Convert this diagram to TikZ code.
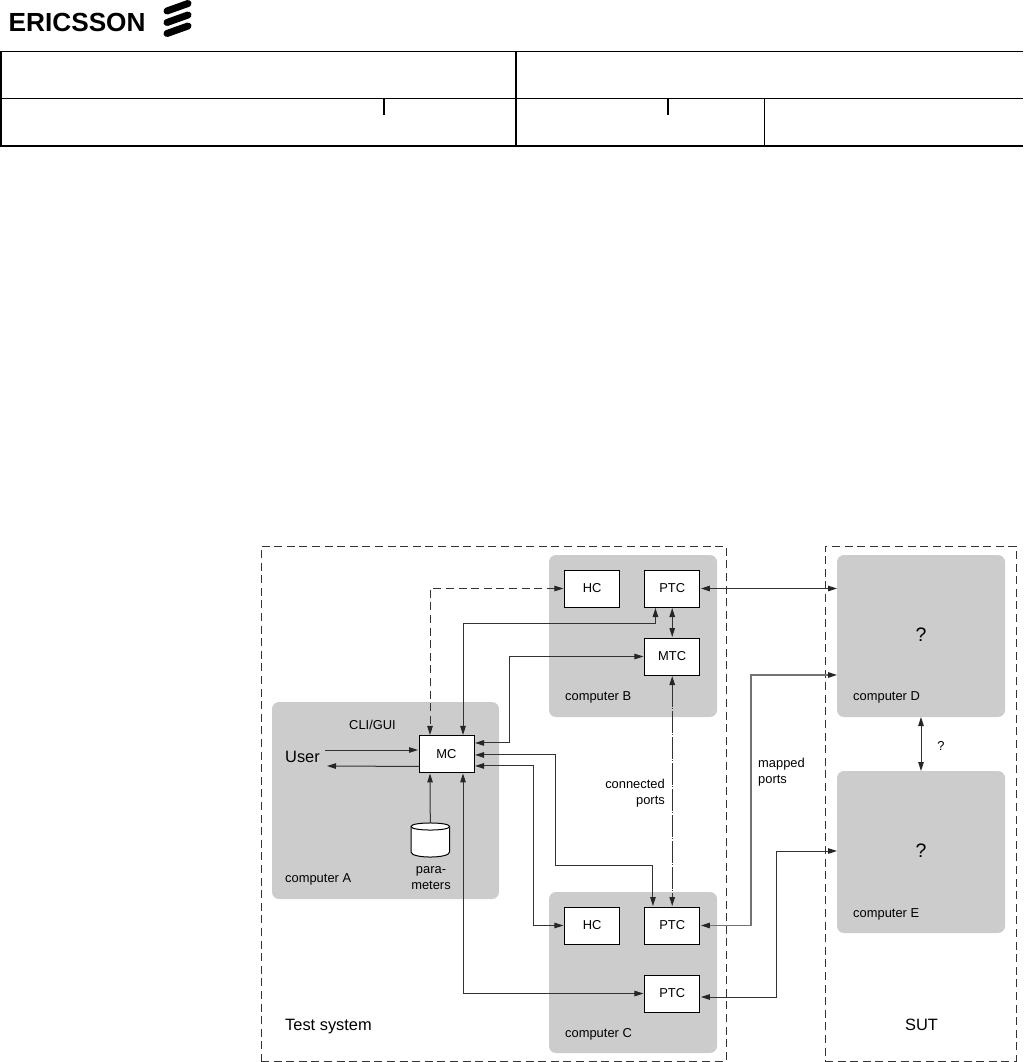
\documentclass[tikz,border=0pt]{standalone}
\usepackage{fontspec}
\setmainfont{Liberation Sans}
\usetikzlibrary{arrows.meta,calc}
\definecolor{compgray}{gray}{0.8}
\definecolor{linegray}{gray}{0.2}
\newcommand{\smalltxt}{\fontsize{12.9}{15.6}\selectfont}
\newcommand{\bigtxt}{\fontsize{16.4}{19}\selectfont}
\newcommand{\hugetxt}{\fontsize{19.5}{22}\selectfont}
\tikzset{
  x=1pt,y=-1pt,
  rule/.style={draw=black,line width=1pt},
  thickrule/.style={draw=black,line width=2pt},
  tickrule/.style={draw=black,line width=1.5pt},
  logobar/.style={draw=black,line width=7pt,line cap=round},
  computer/.style={fill=compgray,rounded corners=7pt,draw=none,inner sep=0pt,outer sep=0pt,anchor=north west},
  region/.style={draw=linegray,line width=1pt,dash pattern=on 8pt off 4.6pt,anchor=north west,inner sep=0pt,outer sep=0pt},
  comp/.style={draw=black,fill=white,line width=1pt,minimum width=55.5pt,minimum height=37pt,inner sep=0pt,outer sep=0pt,font=\smalltxt},
  mcbox/.style={comp,minimum width=55pt,minimum height=36.5pt},
  label/.style={inner sep=0pt,font=\smalltxt,anchor=base west},
  biglabel/.style={inner sep=0pt,font=\bigtxt,anchor=base west},
  conn/.style={draw=linegray,line width=1pt,{Triangle[length=9pt,width=5.5pt,color=black!85]}-{Triangle[length=9pt,width=5.5pt,color=black!85]},shorten <=1pt,shorten >=1pt},
  connone/.style={draw=linegray,line width=1pt,-{Triangle[length=9pt,width=5.5pt,color=black!85]},shorten >=1pt},
  flushconn/.style={conn,shorten <=0pt,shorten >=0pt},
  mapped/.style={flushconn,draw=black!55,line width=1.2pt},
  dashedconn/.style={conn,dash pattern=on 8pt off 4.6pt},
  dotconn/.style={conn,dash pattern=on 22pt off 1.5pt on 1pt off 1.5pt},
  dbshape/.style={draw=black,fill=white,line width=1pt},
}
\begin{document}
\begin{tikzpicture}
\useasboundingbox (0,0) rectangle (1023,1062);
% header
\node[inner sep=0pt,anchor=base west,font=\fontsize{26.2}{28}\selectfont\bfseries] (logotxt) at (8.5,31.7) {ERICSSON};
\coordinate (barA) at (167,11);
\coordinate (barB) at (167,22.5);
\coordinate (barC) at (167,33.5);
\draw[logobar] (barA) -- ++(21,-7.5);
\draw[logobar] (barB) -- ++(21,-7.5);
\draw[logobar] (barC) -- ++(21,-7.5);
\draw[rule] (1,51.5) -- (1023,51.5);
\draw[rule] (1,98.5) -- (1023,98.5);
\draw[thickrule] (0,146) -- (1023,146);
\draw[thickrule] (1,51) -- (1,146);
\draw[thickrule] (516,51) -- (516,146);
\draw[rule] (764.5,98.5) -- (764.5,146);
\draw[tickrule] (384,98.5) -- (384,115);
\draw[tickrule] (668,98.5) -- (668,115);
% regions
\node[region,minimum width=465pt,minimum height=515pt] (testsys) at (261,546) {};
\node[region,minimum width=191pt,minimum height=515pt] (sut) at (825,546) {};
% computers
\node[computer,minimum width=168pt,minimum height=162pt] (compB) at (549,555) {};
\node[computer,minimum width=227pt,minimum height=197pt] (compA) at (272,702) {};
\node[computer,minimum width=168pt,minimum height=161pt] (compC) at (549,892) {};
\node[computer,minimum width=168pt,minimum height=162pt] (compD) at (837,555) {};
\node[computer,minimum width=168pt,minimum height=162pt] (compE) at (837,771) {};
% boxes
\node[comp] (hcb) at (592.2,588.5) {HC};
\node[comp] (ptcb) at (672.2,588.5) {PTC};
\node[comp] (mtc) at (672.2,656.5) {MTC};
\node[mcbox] (mc) at (446.5,754.2) {MC};
\node[comp] (hcc) at (592.2,925.5) {HC};
\node[comp] (ptcc) at (672.2,925.5) {PTC};
\node[comp] (ptcd) at (672.2,993.5) {PTC};
% parameter store
\coordinate (param) at (430.3,823);
\draw[dbshape] (411,826.5) .. controls (411,821.8) and (449.6,821.8) .. (449.6,826.5) -- (449.6,852) .. controls (449.6,858.7) and (411,858.7) .. (411,852) -- cycle;
\draw[dbshape] (411,826.5) .. controls (411,831.2) and (449.6,831.2) .. (449.6,826.5);
% labels
\node[label] (lB) at (565,700) {computer B};
\node[label] (lA) at (285,882) {computer A};
\node[label] (lC) at (565,1037) {computer C};
\node[label] (lD) at (853,700) {computer D};
\node[label] (lE) at (853,917) {computer E};
\node[label] (lcli) at (349,729) {CLI/GUI};
\node[biglabel] (user) at (285,762) {User};
\node[label,anchor=base,align=center] (lpar) at (431,873) {para-};
\node[label,anchor=base,align=center] (lmet) at (431,889) {meters};
\node[label,anchor=base east] (lcon1) at (665,788) {connected};
\node[label,anchor=base east] (lcon2) at (665,804) {ports};
\node[label] (lmap1) at (758,767) {mapped};
\node[label] (lmap2) at (758,783) {ports};
\node[biglabel] (ts) at (285,1030) {Test system};
\node[biglabel] (sutl) at (905,1030) {SUT};
\node[biglabel,font=\hugetxt,anchor=center] (qD) at (921,635) {?};
\node[biglabel,font=\hugetxt,anchor=center] (qE) at (921,851) {?};
\node[label,anchor=center] (qDE) at (941,746) {?};
% connectors
\draw[dashedconn] (hcb.west) -| ($(mc.north west)+(11,0)$);
\draw[conn] ($(ptcb.south west)+(11,0)$) -- ++(0,16) -| ($(mc.north west)+(44,0)$);
\draw[conn] (mtc.west) -- ++(-134.5,0) |- ($(mc.north east)+(0,7)$);
\draw[conn] ($(mc.north east)+(0,19)$) -- ++(81,0) -- ++(0,111) -| ($(ptcc.north west)+(8.5,0)$);
\draw[conn] ($(mc.north east)+(0,30)$) -- ++(59,0) |- (hcc.west);
\draw[conn] ($(mc.south west)+(44,0)$) |- (ptcd.west);
\draw[connone] (param) -- ($(mc.south west)+(11,0)$);
\coordinate (userin) at (325,750);
\coordinate (userout) at (326,766);
\draw[connone] (userin) -- (userin -| mc.west);
\draw[connone] ($(mc.south west)+(0,-6)$) -- (userout);
\draw[dotconn] (ptcb.south) -- (mtc.north);
\draw[dotconn] (mtc.south) -- (ptcc.north);
\draw[flushconn,shorten <=1pt] (ptcb.east) -- (ptcb.east -| compD.west);
\draw[mapped,shorten >=1pt] ($(compD.north west)+(0,120)$) -- ++(-86,0) |- (ptcc.east);
\draw[flushconn,shorten >=1pt] ($(compE.north west)+(0,80)$) -- ++(-61,0) |- ($(ptcd.east)+(0,3.5)$);
\draw[flushconn] (compD.south -| qD) -- (compE.north -| qD);
\end{tikzpicture}
\end{document}
